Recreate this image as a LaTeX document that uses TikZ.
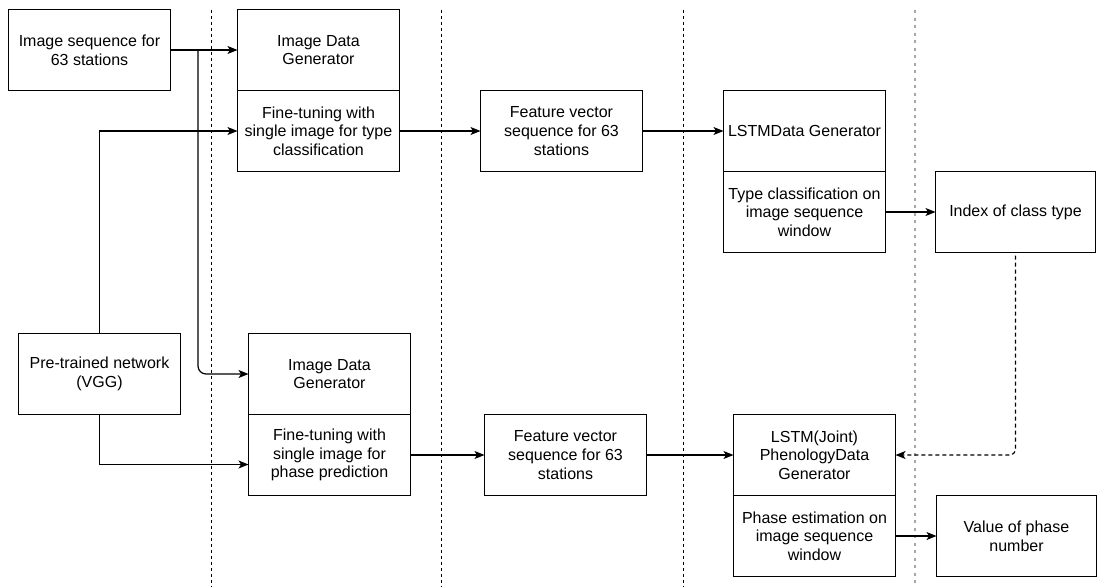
\documentclass[tikz,border=0pt]{standalone}
\usepackage{fontspec}
\setmainfont{Liberation Sans}
\usepackage{xcolor}
\usetikzlibrary{positioning, arrows.meta}

\begin{document}
\begin{tikzpicture}[x=1pt, y=-1pt, line width=1.2pt,
    every node/.style={rectangle, draw, minimum width=162pt, minimum height=81pt, outer sep=0pt, inner sep=2pt, align=center, font=\fontsize{16}{18.6}\selectfont},
    arr/.style={-{Stealth[length=10pt, width=8pt, inset=2.5pt]}, line width=1.2pt},
    sep/.style={dash pattern=on 3pt off 3pt, line width=1pt}]
    \useasboundingbox (0,0) rectangle (1097,587);
    % separators
    \foreach \x in {211, 441, 683}
        \draw[sep] (\x,10) -- (\x,587);
    \draw[sep, gray!70, dash pattern=on 3pt off 4.5pt, line width=1.6pt] (915,10) -- (915,587);
    % upper row
    \node (seq) at (89.5,50) {Image sequence for\\63 stations};
    \node[right=67pt of seq] (idga) {Image Data\\Generator};
    \node[below=0pt of idga] (fta) {Fine-tuning with\\single image for type\\classification};
    \node[right=81pt of fta] (fva) {Feature vector\\sequence for 63\\stations};
    \node[right=81pt of fva] (lstma) {LSTMData Generator};
    \node[below=0pt of lstma] (tca) {Type classification on\\image sequence\\window};
    \node[minimum width=160pt, right=50pt of tca] (idx) {Index of class type};
    % lower row
    \node[below=243pt of seq, xshift=10pt] (vgg) {Pre-trained network\\(VGG)};
    \node[right=68pt of vgg] (idgb) {Image Data\\Generator};
    \node[below=0pt of idgb] (ftb) {Fine-tuning with\\single image for\\phase prediction};
    \node[right=74pt of ftb] (fvb) {Feature vector\\sequence for 63\\stations};
    \node[right=87pt of fvb] (lstmb) {LSTM(Joint)\\PhenologyData\\Generator};
    \node[below=0pt of lstmb] (peb) {Phase estimation on\\image sequence\\window};
    \node[minimum width=160pt, right=41pt of peb] (val) {Value of phase\\number};
    \coordinate (split) at (198,0);
    % Arrows
    \draw[arr] (seq) -- (idga);
    \draw[arr, rounded corners=8pt] (seq.east -| split) |- (idgb.west);
    \draw[arr] (vgg.north) |- (fta.west);
    \draw[arr] (vgg.south) |- ([yshift=-9.5pt]ftb.west);
    \draw[arr] (fta) -- (fva);
    \draw[arr] (fva) -- (lstma);
    \draw[arr] (tca) -- (idx);
    \draw[arr] (ftb) -- (fvb);
    \draw[arr] (fvb) -- (lstmb);
    \draw[arr] (peb) -- (val);
    \draw[arr, dash pattern=on 4pt off 3pt, rounded corners=6pt] ([yshift=-3pt]idx.south) |- (lstmb.east);
\end{tikzpicture}
\end{document}
